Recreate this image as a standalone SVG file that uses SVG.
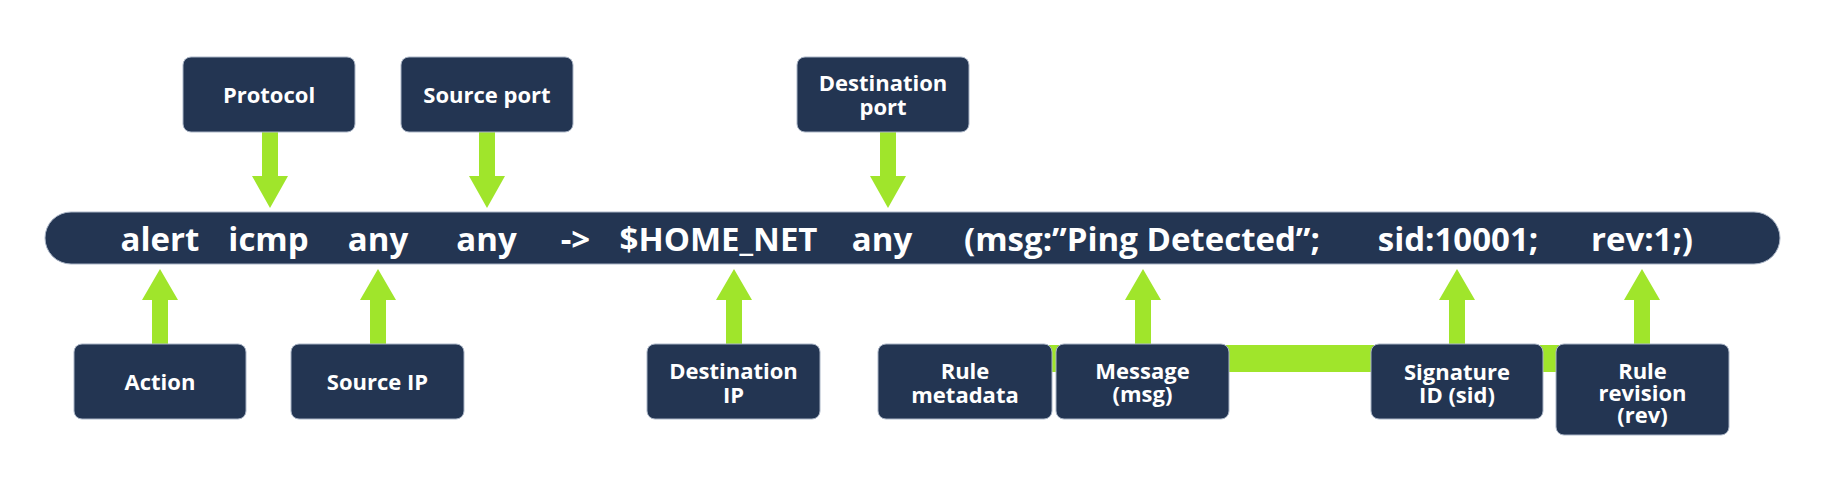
<svg xmlns="http://www.w3.org/2000/svg" xmlns:xlink="http://www.w3.org/1999/xlink" width="1825" height="483" viewBox="0 0 1825 483">
  <style>
    .box { fill: #233552; stroke: #aab5c6; stroke-width: 1; }
    .lbl { font-family: "Open Sans", "Noto Sans", "Liberation Sans", sans-serif; font-weight: 700; font-size: 22px; fill: #ffffff; text-anchor: middle; }
    .tok { font-family: "Open Sans", "Noto Sans", "Liberation Sans", sans-serif; font-weight: 700; font-size: 33px; fill: #ffffff; text-anchor: middle; }
    .green { fill: #a0e52b; }
  </style>
  <defs>
    <path id="arrowDown" d="M-8,0 H8 V44 H18 L0,76 L-18,44 H-8 Z"/>
    <path id="arrowUp" d="M0,0 L18,31 H8 V75 H-8 V31 H-18 Z"/>
  </defs>
  <rect width="1825" height="483" fill="#ffffff"/>

  <g id="connectors" class="green">
    <rect x="1045" y="345" width="520" height="27"/>
    <use xlink:href="#arrowDown" x="270" y="132"/>
    <use xlink:href="#arrowDown" x="487" y="132"/>
    <use xlink:href="#arrowDown" x="888" y="132"/>
    <use xlink:href="#arrowUp" x="160" y="269"/>
    <use xlink:href="#arrowUp" x="378" y="269"/>
    <use xlink:href="#arrowUp" x="734" y="269"/>
    <use xlink:href="#arrowUp" x="1143" y="269"/>
    <use xlink:href="#arrowUp" x="1457" y="269"/>
    <use xlink:href="#arrowUp" x="1642" y="269"/>
  </g>

  <g id="rule-bar">
    <rect x="45" y="212" width="1735" height="52" rx="26" fill="#233552" stroke="#aab5c6" stroke-width="1"/>
    <text class="tok" x="160" y="251">alert</text>
    <text class="tok" x="268.5" y="251">icmp</text>
    <text class="tok" x="378" y="251">any</text>
    <text class="tok" x="486.5" y="251">any</text>
    <text class="tok" x="575.5" y="251">-&gt;</text>
    <text class="tok" x="718.5" y="251">$HOME_NET</text>
    <text class="tok" x="882" y="251">any</text>
    <text class="tok" x="1142" y="251">(msg:”Ping Detected”;</text>
    <text class="tok" x="1458" y="251">sid:10001;</text>
    <text class="tok" x="1642" y="251">rev:1;)</text>
  </g>

  <g id="protocol">
    <rect class="box" x="183" y="57" width="172" height="75" rx="8"/>
    <text class="lbl" x="269" y="103">Protocol</text>
  </g>
  <g id="source-port">
    <rect class="box" x="401" y="57" width="172" height="75" rx="8"/>
    <text class="lbl" x="487" y="103">Source port</text>
  </g>
  <g id="destination-port">
    <rect class="box" x="797" y="57" width="172" height="75" rx="8"/>
    <text class="lbl" x="883" y="91">Destination</text>
    <text class="lbl" x="883" y="115">port</text>
  </g>

  <g id="action">
    <rect class="box" x="74" y="344" width="172" height="75" rx="8"/>
    <text class="lbl" x="160" y="390">Action</text>
  </g>
  <g id="source-ip">
    <rect class="box" x="291" y="344" width="173" height="75" rx="8"/>
    <text class="lbl" x="377.5" y="390">Source IP</text>
  </g>
  <g id="destination-ip">
    <rect class="box" x="647" y="344" width="173" height="75" rx="8"/>
    <text class="lbl" x="733.5" y="379">Destination</text>
    <text class="lbl" x="733.5" y="403">IP</text>
  </g>
  <g id="rule-metadata">
    <rect class="box" x="878" y="344" width="174" height="75" rx="8"/>
    <text class="lbl" x="965" y="379">Rule</text>
    <text class="lbl" x="965" y="403">metadata</text>
  </g>
  <g id="message">
    <rect class="box" x="1056" y="344" width="173" height="75" rx="8"/>
    <text class="lbl" x="1142.5" y="379">Message</text>
    <text class="lbl" x="1142.5" y="402">(msg)</text>
  </g>
  <g id="signature-id">
    <rect class="box" x="1371" y="344" width="172" height="75" rx="8"/>
    <text class="lbl" x="1457" y="380">Signature</text>
    <text class="lbl" x="1457" y="403">ID (sid)</text>
  </g>
  <g id="rule-revision">
    <rect class="box" x="1556" y="344" width="173" height="91" rx="8"/>
    <text class="lbl" x="1642.5" y="379">Rule</text>
    <text class="lbl" x="1642.5" y="401">revision</text>
    <text class="lbl" x="1642.5" y="423">(rev)</text>
  </g>
</svg>
